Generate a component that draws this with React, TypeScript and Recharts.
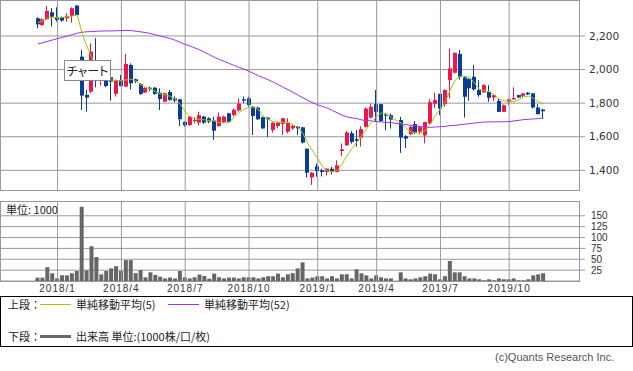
import React from 'react';
import { ComposedChart, Bar, Line, XAxis, YAxis, CartesianGrid, ReferenceLine } from 'recharts';

// weekly candles, index 73 = holiday week (no trading)
const opens = [2305,2265,2299,2341,2310,2311,2305,2319,2381,2077,
 1849,1868,2050,1940,1945,1954,1855,1938,1898,2027,
 1942,1914,1863,1892,1892,1862,1809,1867,1828,1823,
 1688,1670,1694,1684,1720,1710,1696,1664,1688,1739,
 1730,1757,1823,1829,1779,1773,1716,1714,1640,1664,
 1676,1630,1650,1660,1656,1529,1358,1424,1400,1390,
 1410,1390,1515,1549,1621,1586,1595,1659,1714,1794,
 1794,1732,1728,null,1700,1603,1615,1675,1630,1608,
 1680,1796,1855,1794,1937,1981,2093,1953,1943,1957,
 1878,1864,1868,1834,1814,1748,1806,1822,1848,1844,
 1862,1858,1774,1762];
const highs = [2311,2305,2379,2365,2371,2315,2335,2371,2383,2117,
 1880,2156,2186,1990,1970,1978,1940,1968,2093,2037,
 1946,1918,1894,1898,1896,1888,1862,1879,1840,1825,
 1692,1722,1716,1749,1724,1716,1720,1745,1726,1743,
 1770,1829,1840,1839,1783,1779,1720,1716,1686,1690,
 1714,1710,1670,1664,1660,1529,1390,1440,1410,1412,
 1420,1460,1560,1633,1633,1640,1663,1774,1798,1878,
 1796,1738,1738,null,1718,1609,1663,1694,1659,1688,
 1824,1864,1856,1882,2126,2100,2116,1960,1950,2027,
 1937,1913,1907,1852,1828,1792,1828,1894,1850,1860,
 1866,1860,1794,1766];
const lows = [2246,2260,2295,2256,2285,2285,2285,2279,2325,1759,
 1749,1860,1894,1905,1895,1815,1839,1900,1898,1882,
 1920,1849,1860,1872,1850,1759,1805,1815,1805,1664,
 1660,1664,1680,1670,1676,1680,1581,1660,1680,1684,
 1720,1750,1800,1779,1610,1700,1646,1597,1624,1650,
 1610,1620,1640,1610,1560,1358,1313,1362,1364,1370,
 1376,1388,1484,1545,1559,1541,1541,1655,1708,1690,
 1688,1639,1649,null,1504,1533,1609,1615,1615,1561,
 1674,1770,1728,1778,1828,1977,1940,1714,1814,1874,
 1838,1862,1808,1812,1748,1748,1788,1822,1832,1834,
 1848,1768,1734,1711];
const closes = [2269,2299,2349,2315,2295,2291,2319,2365,2325,1845,
 1833,2107,1990,1980,1902,1928,1938,1902,2033,1918,
 1930,1855,1890,1886,1855,1825,1859,1819,1815,1704,
 1668,1720,1700,1728,1684,1690,1636,1720,1720,1688,
 1760,1797,1815,1789,1724,1704,1650,1704,1684,1684,
 1710,1684,1664,1650,1565,1386,1386,1396,1390,1410,
 1392,1430,1525,1625,1569,1576,1645,1768,1778,1748,
 1694,1728,1702,null,1595,1589,1659,1625,1657,1688,
 1806,1818,1768,1878,2007,2100,1957,1838,1888,1882,
 1848,1907,1832,1848,1748,1788,1822,1830,1834,1858,
 1852,1774,1734,1752];
const volumes = [7.7,7.7,31.7,17.8,6.2,13,13,17.8,23,170.6,
 24.7,80,55,15.4,23,29,34,23,48,48,
 18,25,8.5,20,14,10,6,8,6,23,
 8.5,6,8.5,15,11.6,5.4,17,8.5,6,8,
 8,6,8.5,8.5,8.5,6,8.5,11,11,17,
 8.5,15.4,18,29,43,6,8,11,11,6,
 11,6,15.4,15.4,6,27,17.8,13,6,13,
 8.5,6,6,null,20,6,4,6,8.5,11,
 17,15.4,4,11,46,20,20,11,6,6,
 4,1.5,4,1.5,6,4,4,6,1.5,1.5,
 4,13,15.4,17.8];
const ma5 = [2279,2291,2305,2309,2311,2311,2315,2319,2325,2216,
 2136,2067,2000,1975,1954,1938,1934,1936,1938,1942,
 1932,1908,1894,1882,1868,1855,1849,1840,1822,1795,
 1749,1720,1704,1704,1700,1696,1694,1684,1684,1688,
 1716,1745,1763,1775,1775,1759,1720,1704,1690,1686,
 1684,1684,1670,1656,1620,1557,1515,1470,1420,1396,
 1392,1400,1440,1490,1529,1569,1609,1649,1689,1722,
 1742,1738,1714,null,1683,1649,1629,1623,1623,1639,
 1679,1728,1768,1808,1878,1937,1961,1961,1953,1917,
 1882,1874,1868,1848,1824,1814,1808,1808,1822,1838,
 1842,1828,1808,1794];
const ma52 = [2152,2160,2168,2176,2184,2192,2200,2208,2216,2222,
 2225,2226,2228,2229,2230,2230,2231,2232,2233,2232,
 2228,2224,2220,2214,2206,2200,2192,2184,2174,2162,
 2150,2140,2128,2117,2102,2088,2072,2060,2048,2036,
 2024,2013,2002,1990,1976,1962,1950,1938,1924,1910,
 1894,1880,1864,1848,1832,1816,1802,1790,1780,1770,
 1756,1742,1728,1718,1712,1708,1700,1696,1694,1690,
 1688,1686,1684,null,1676,1672,1668,1664,1660,1656,
 1656,1658,1660,1662,1666,1668,1672,1675,1678,1682,
 1685,1688,1688,1689,1689,1689,1690,1694,1698,1702,
 1704,1706,1708,1711];

const monthTickIdx = [4, 17, 30, 43, 57, 69, 82, 96];
const monthTickLabels = ['2018/1', '2018/4', '2018/7', '2018/10', '2019/1', '2019/4', '2019/7', '2019/10'];
const priceTicks = [1400, 1600, 1800, 2000, 2200];
const volumeTicks = [25, 50, 75, 100, 125, 150];

const RED = '#f0154a';
const BLUE = '#0a3a9c';
const GRID = '#999';

const rows = opens.map((o, i) => ({
  i,
  range: o == null ? null : [lows[i], highs[i]],
  open: o,
  high: highs[i],
  low: lows[i],
  close: closes[i],
  vol: volumes[i],
  ma5: ma5[i],
  ma52: ma52[i],
}));

const Candle = (props: any) => {
  const { x, y, width, height, payload } = props;
  if (!payload || payload.open == null) return null;
  const { open, close, high, low } = payload;
  const top0 = Math.min(y, y + height);
  const h = Math.abs(height);
  const span = high - low;
  const k = span > 0 ? h / span : 0;
  const py = (v: number) => top0 + (high - v) * k;
  const color = close >= open ? RED : BLUE;
  const cx = Math.round(x + width / 2) - 0.5;
  const bTop = py(Math.max(open, close));
  const bBot = py(Math.min(open, close));
  const bx = Math.round(x);
  return (
    <g>
      <line x1={cx} x2={cx} y1={top0} y2={top0 + h} stroke={color} strokeWidth={1} />
      <rect x={bx} y={bTop} width={width} height={Math.max(1, bBot - bTop)} fill={color} />
    </g>
  );
};

const xPad = { left: 35.5, right: 33 };

const abs = (left: number, top: number, extra: any = {}) => ({ position: 'absolute' as const, left, top, ...extra });

export default function App() {
  const cjk = '"Noto Sans CJK JP", sans-serif';
  return (
    <div style={{ position: 'absolute', left: 0, top: 0, width: 633, height: 371, background: '#fff', overflow: 'hidden' }}>
      {/* price chart */}
      <div style={abs(0, 0)}>
        <ComposedChart width={633} height={191} data={rows} margin={{ top: 0, right: 0, bottom: 0, left: 0 }}>
          <CartesianGrid vertical={false} stroke={GRID} />
          <XAxis dataKey="i" type="category" hide padding={xPad} />
          <YAxis
            orientation="right"
            width={54}
            domain={[1277, 2414]}
            ticks={priceTicks}
            interval={0}
            allowDataOverflow
            axisLine={false}
            tickLine={{ stroke: GRID }}
            tickSize={6}
            tickMargin={4}
            tick={{ fill: '#333', fontSize: 10.5, fontFamily: 'DejaVu Sans' }}
            tickFormatter={(v: number) => v.toLocaleString('en-US')}
          />
          {monthTickIdx.map((v) => (
            <ReferenceLine key={v} x={v} stroke={GRID} />
          ))}
          <Bar dataKey="range" barSize={4} isAnimationActive={false} shape={(p: any) => <Candle {...p} />} />
          <Line dataKey="ma52" stroke="#9b30f0" strokeWidth={1} dot={false} activeDot={false} connectNulls isAnimationActive={false} />
          <Line dataKey="ma5" stroke="#9ccc00" strokeWidth={1} dot={false} activeDot={false} connectNulls isAnimationActive={false} />
        </ComposedChart>
      </div>
      <div style={abs(0, 0, { width: 580, height: 191, border: `1px solid ${GRID}`, boxSizing: 'border-box', pointerEvents: 'none' })} />
      <div
        style={abs(64, 60, {
          width: 47, height: 21, border: '1px solid #888', boxSizing: 'border-box', background: '#fff',
          fontFamily: cjk, fontSize: 12, lineHeight: '19px', textAlign: 'center', color: '#222',
          fontFeatureSettings: '"palt"',
        })}
      >
        チャート
      </div>

      {/* volume chart */}
      <div style={abs(0, 201)}>
        <ComposedChart width={633} height={96} data={rows} margin={{ top: 0, right: 0, bottom: 0, left: 0 }}>
          <CartesianGrid vertical={false} stroke={GRID} />
          <XAxis
            dataKey="i"
            type="category"
            padding={xPad}
            height={16}
            ticks={monthTickIdx}
            interval={0}
            axisLine={false}
            tickLine={false}
            tickSize={0}
            tickMargin={4}
            tick={{ fill: '#333', fontSize: 10, fontFamily: 'Liberation Sans', letterSpacing: 1 }}
            tickFormatter={(v: number) => monthTickLabels[monthTickIdx.indexOf(v)]}
          />
          <YAxis
            orientation="right"
            width={54}
            domain={[0, 184]}
            ticks={volumeTicks}
            interval={0}
            allowDataOverflow
            axisLine={false}
            tickLine={{ stroke: GRID }}
            tickSize={6}
            tickMargin={6}
            tick={{ fill: '#333', fontSize: 10, fontFamily: 'Liberation Sans' }}
          />
          {monthTickIdx.map((v) => (
            <ReferenceLine key={v} x={v} stroke={GRID} />
          ))}
          <Bar dataKey="vol" fill="#666" barSize={4} isAnimationActive={false} />
        </ComposedChart>
      </div>
      <div style={abs(0, 201, { width: 580, height: 81, border: `1px solid ${GRID}`, boxSizing: 'border-box', pointerEvents: 'none' })} />
      <div style={abs(6, 202, { fontFamily: cjk, fontSize: 11, lineHeight: '15px', color: '#222', whiteSpace: 'nowrap' })}>単位: 1000</div>

      {/* legend */}
      <div style={abs(0, 296, { width: 633, height: 51, border: '1px solid #000', boxSizing: 'border-box' })} />
      <div style={abs(8, 297, { fontFamily: cjk, fontSize: 11, lineHeight: '15px', color: '#222', whiteSpace: 'nowrap' })}>上段：</div>
      <div style={abs(40, 304, { width: 31, height: 1, background: '#9ccc00' })} />
      <div style={abs(76, 297, { fontFamily: cjk, fontSize: 11, lineHeight: '15px', color: '#222', whiteSpace: 'nowrap' })}>単純移動平均(5)</div>
      <div style={abs(168, 304, { width: 31, height: 1, background: '#9b30f0' })} />
      <div style={abs(204, 297, { fontFamily: cjk, fontSize: 11, lineHeight: '15px', color: '#222', whiteSpace: 'nowrap' })}>単純移動平均(52)</div>
      <div style={abs(8, 329, { fontFamily: cjk, fontSize: 11, lineHeight: '15px', color: '#222', whiteSpace: 'nowrap' })}>下段：</div>
      <div style={abs(40, 335, { width: 31, height: 3, background: '#666' })} />
      <div style={abs(76, 329, { fontFamily: cjk, fontSize: 11, lineHeight: '15px', color: '#222', whiteSpace: 'nowrap' })}>出来高 単位:(1000株/口/枚)</div>

      <div style={abs(495, 350, { fontFamily: 'Liberation Sans', fontSize: 11, lineHeight: '14px', color: '#555', whiteSpace: 'nowrap' })}>(c)Quants Research Inc.</div>
    </div>
  );
}
